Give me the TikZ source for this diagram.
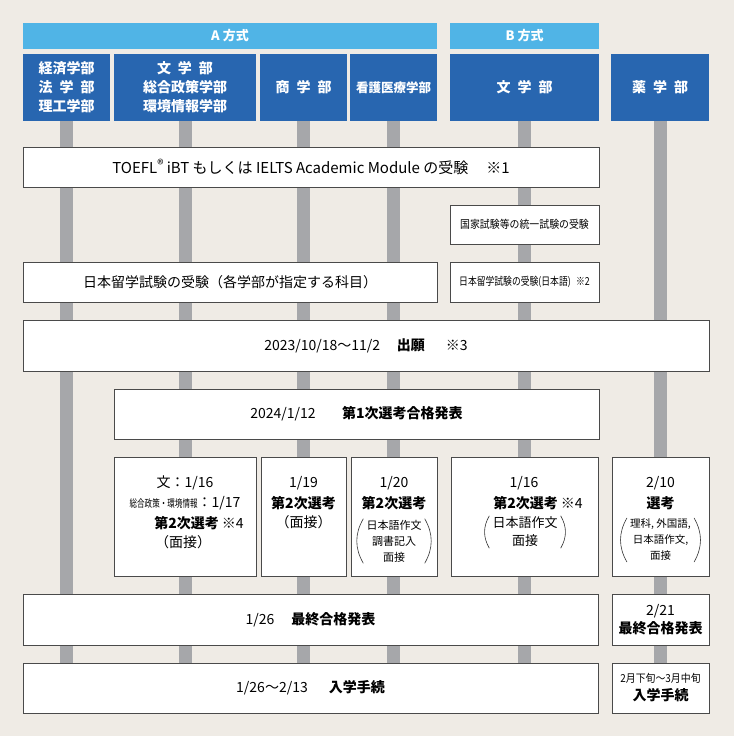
\documentclass[tikz,border=0pt]{standalone}
\usepackage{fontspec}
\setmainfont{Noto Sans CJK JP}
\usetikzlibrary{backgrounds}
\definecolor{bgbeige}{HTML}{EFEBE5}
\definecolor{hdrlight}{HTML}{50B4E6}
\definecolor{hdrdark}{HTML}{2866B0}
\definecolor{pillargray}{HTML}{A6A7AA}
\definecolor{boxline}{HTML}{4A4A4A}
\newcommand{\fsz}[2]{\fontsize{#1}{#2}\selectfont}

\begin{document}
\begin{tikzpicture}[x=1pt,y=-1pt,
    sized/.style 2 args={minimum width=#1,minimum height=#2},
    hdr/.style={fill=hdrlight,text=white,font=\bfseries\fsz{13}{16},inner sep=0},
    dept/.style={fill=hdrdark,text=white,font=\bfseries\fsz{14}{19},align=center,inner sep=0},
    box/.style={draw=boxline,fill=white,line width=0.8pt,inner sep=0},
    txt/.style={font=\fsz{14}{18},align=center,inner sep=0},
    small/.style={font=\fsz{11}{16},align=center,inner xsep=3pt,inner ysep=1pt},
    paren/.style={draw=black!80,line width=0.6pt},
    pillar/.style={draw=pillargray,line width=13pt}]
  \useasboundingbox (0,0) rectangle (734,736);
  % entrance modes
  \node[hdr,sized={414}{26}] (amode) at (230,36) {A 方式};
  \node[hdr,sized={149}{26}] (bmode) at (524.5,36) {B 方式};
  % faculties
  \node[dept,sized={87}{67}] (econ) at (66.5,87.5) {経済学部\\法\hspace{.5em}学\hspace{.5em}部\\理工学部};
  \node[dept,sized={142}{67}] (lit) at (185,87.5) {文\hspace{.5em}学\hspace{.5em}部\\総合政策学部\\環境情報学部};
  \node[dept,sized={87}{67}] (comm) at (303.5,87.5) {商\hspace{.5em}学\hspace{.5em}部};
  \node[dept,sized={87}{67},font=\bfseries\fsz{12.5}{16}] (nurse) at (393.5,87.5) {看護医療学部};
  \node[dept,sized={149}{67}] (litb) at (524.5,87.5) {文\hspace{.5em}学\hspace{.5em}部};
  \node[dept,sized={98}{67}] (pharm) at (660,87.5) {薬\hspace{.5em}学\hspace{.5em}部};

  % steps
  \node[box,txt,sized={576}{40},font=\fsz{15}{18}] (toefl) at (311,167)
    {TOEFL\raisebox{3.5pt}{\fsz{13}{13}®} iBT もしくは IELTS Academic Module の受験\hspace{1.2em}※1};
  \node[box,sized={149}{39},font=\fsz{11}{12}] (natl) at (524.5,224.5)
    {\scalebox{0.9}[1]{国家試験等の統一試験の受験}};
  \node[box,txt,sized={414}{40}] (eju) at (230,282) {日本留学試験の受験（各学部が指定する科目）};
  \node[box,sized={149}{40},font=\fsz{11}{12}] (ejub) at (524.5,282)
    {\scalebox{0.8}[1]{日本留学試験の受験(日本語)\hspace{.6em}※2}};
  \node[box,txt,sized={686}{51}] (apply) at (366,345.5) {2023/10/18～11/2\hspace{1.2em}\textbf{出願}\hspace{1.5em}※3};
  \node[box,txt,sized={485}{50}] (first) at (356.5,414) {2024/1/12\hspace{1.9em}\textbf{第1次選考合格発表}};

  % second stage
  \node[box,sized={142}{119}] (litexam) at (185,516.5) {};
  \node[box,sized={85}{119}] (commexam) at (303.5,516.5) {};
  \node[box,sized={86}{119}] (nurseexam) at (394,516.5) {};
  \node[box,sized={147}{119}] (litbexam) at (524.5,516.5) {};
  \node[box,sized={97}{119}] (pharmexam) at (660.5,516.5) {};

  \node[txt] (lit1) at (185,483) {文：1/16};
  \node[txt] (lit2) at (185,503) {\scalebox{0.72}[1]{\fsz{10.5}{11}総合政策・環境情報}：1/17};
  \node[txt] (lit3) at (199,523) {\textbf{第2次選考} ※4};
  \node[txt] (lit4) at (183,542) {（面接）};

  \node[txt] (comm1) at (303.5,483) {1/19};
  \node[txt] (comm2) at (303.5,503) {\textbf{第2次選考}};
  \node[txt] (comm3) at (303.5,522) {（面接）};

  \node[txt] (nurse1) at (394,483) {1/20};
  \node[txt] (nurse2) at (394,503) {\textbf{第2次選考}};
  \node[small] (nurse3) at (394,541) {日本語作文\\調書記入\\面接};

  \node[txt] (litb1) at (524,483) {1/16};
  \node[txt] (litb2) at (538,503) {\textbf{第2次選考} ※4};
  \node[small,font=\fsz{13}{18}] (litb3) at (525,532) {日本語作文\\面接};

  \node[txt] (pharm1) at (660.5,483) {2/10};
  \node[txt] (pharm2) at (660.5,503) {\textbf{選考}};
  \node[small,font=\fsz{10.5}{16}] (pharm3) at (660.5,540) {理科, 外国語,\\日本語作文,\\面接};

  \foreach \g in {nurse3,litb3,pharm3} {
    \draw[paren] (\g.north west) to[bend right=30] (\g.south west);
    \draw[paren] (\g.north east) to[bend left=30] (\g.south east);
  }

  % results and enrolment
  \node[box,txt,sized={575}{51}] (final) at (310.5,619.5) {1/26\hspace{1.2em}\textbf{最終合格発表}};
  \node[box,txt,sized={97}{51}] (finalp) at (660.5,619.5) {2/21\\\textbf{最終合格発表}};
  \node[box,txt,sized={575}{50}] (enrol) at (310.5,688) {1/26～2/13\hspace{1.5em}\textbf{入学手続}};
  \node[box,txt,sized={97}{50}] (enrolp) at (660.5,688)
    {\scalebox{0.9}[1]{\fsz{11}{12}2月下旬～3月中旬}\\\textbf{入学手続}};

  \begin{scope}[on background layer]
    \fill[bgbeige] (0,0) rectangle (734,736);
    \foreach \d in {econ,lit,comm,nurse,litb,pharm}
      \draw[pillar] (\d.center) -- (\d.center |- enrol.north);
  \end{scope}
\end{tikzpicture}
\end{document}
